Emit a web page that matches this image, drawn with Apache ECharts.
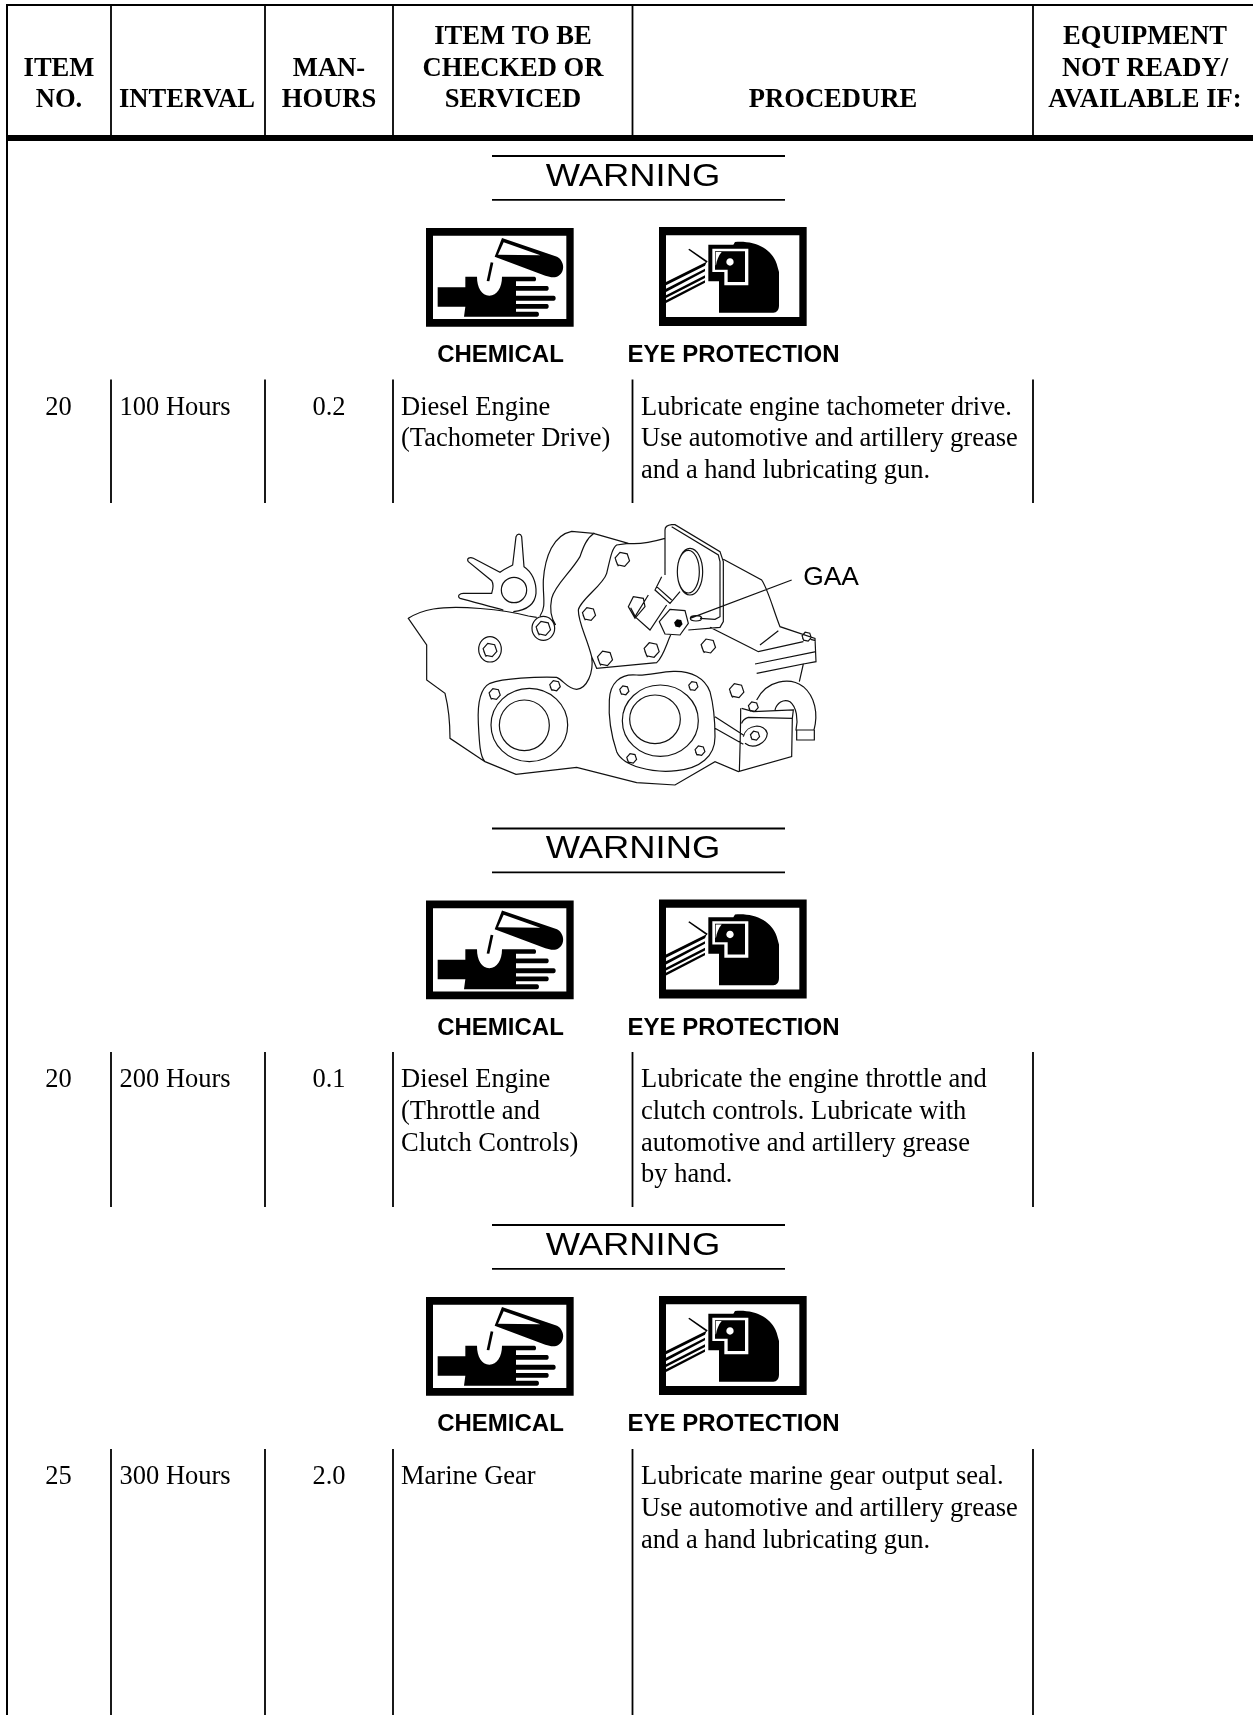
<!DOCTYPE html>
<html>
<head>
<meta charset="utf-8">
<script src="https://cdn.jsdelivr.net/npm/echarts@6/dist/echarts.min.js"></script>
<style>html,body{margin:0;padding:0;background:#fff}#c{width:1253px;height:1715px}</style>
</head>
<body>
<div id="c"></div>
<script>
// ---- content ----
const headers = [
  ["ITEM", "NO."],
  ["INTERVAL"],
  ["MAN-", "HOURS"],
  ["ITEM TO BE", "CHECKED OR", "SERVICED"],
  ["PROCEDURE"],
  ["EQUIPMENT", "NOT READY/", "AVAILABLE IF:"]
];
const itemNos = ["20", "20", "25"];
const intervals = ["100 Hours", "200 Hours", "300 Hours"];
const manHours = ["0.2", "0.1", "2.0"];
const itemsChecked = [
  ["Diesel Engine", "(Tachometer Drive)"],
  ["Diesel Engine", "(Throttle and", "Clutch Controls)"],
  ["Marine Gear"]
];
const procedures = [
  ["Lubricate engine tachometer drive.", "Use automotive and artillery grease", "and a hand lubricating gun."],
  ["Lubricate the engine throttle and", "clutch controls. Lubricate with", "automotive and artillery grease", "by hand."],
  ["Lubricate marine gear output seal.", "Use automotive and artillery grease", "and a hand lubricating gun."]
];
const warningTitle = "WARNING";
const hazardLabels = ["CHEMICAL", "EYE PROTECTION"];
const calloutLabel = "GAA";

// ---- layout ----
const W = 1253, H = 1715;
const colLines = [111, 265, 393, 632.5, 1033];
const headerCenters = [59, 187, 329, 513, 833, 1145];
const headerLineYs = [37.2, 68.9, 100.6];
const rowSpans = [[379.5, 503], [1052, 1207], [1449, 1715]];
const rowFirstLine = [407.7, 1080.2, 1477.2];
const LINE = 31.7;
const warningOffsets = [0, 672.5, 1069];
const SERIF = "'Liberation Serif','Times New Roman',serif";
const SANS = "'Liberation Sans',Arial,sans-serif";
const BODY = 26.5, HEAD = 26.6;

// Cell descriptors built from the value arrays
const cells = [];
function addText(text, x, y, font, size, weight, align, sx) { cells.push({text, x, y, font, size, weight, align, sx: sx || 1}); }
headers.forEach((h, i) => {
  const ys = headerLineYs.slice(3 - h.length);
  h.forEach((t, j) => addText(t, headerCenters[i], ys[j], SERIF, HEAD, 'bold', 'center'));
});
itemNos.forEach((v, r) => {
  const y = rowFirstLine[r];
  addText(v, 58.5, y, SERIF, BODY, 'normal', 'center');
  addText(intervals[r], 119.5, y, SERIF, BODY, 'normal', 'left');
  addText(manHours[r], 329, y, SERIF, BODY, 'normal', 'center');
  itemsChecked[r].forEach((t, j) => addText(t, 401, y + j * LINE, SERIF, BODY, 'normal', 'left'));
  procedures[r].forEach((t, j) => addText(t, 641, y + j * LINE, SERIF, BODY, 'normal', 'left'));
});
warningOffsets.forEach(d => {
  addText(warningTitle, 633, 177 + d, SANS, 31.5, 'normal', 'center', 1.155);
  addText(hazardLabels[0], 500.5, 355.5 + d, SANS, 24, 'bold', 'center');
  addText(hazardLabels[1], 733.5, 355.5 + d, SANS, 24, 'bold', 'center');
});
addText(calloutLabel, 831, 578, SANS, 26.4, 'normal', 'center');

// Rule descriptors
const rules = [];
function addRule(x1, y1, x2, y2, w) { rules.push({x1, y1, x2, y2, w}); }
addRule(6, 5, W, 5, 2);
addRule(7, 4, 7, H, 2);
addRule(6, 138, W, 138, 6);
colLines.forEach(x => addRule(x, 5, x, 136, 1.8));
rowSpans.forEach(s => colLines.forEach(x => addRule(x, s[0], x, s[1], 1.8)));
warningOffsets.forEach(d => {
  addRule(492, 156 + d, 785, 156 + d, 1.8);
  addRule(492, 199.8 + d, 785, 199.8 + d, 1.8);
});

// ---- pictograms (drawing coordinates: 3 units = 1 px) ----
const chemFrame = "M78,54H521V350H78ZM99,77V327H499V77Z";
const chemTube = "M306,84L471,140C491,150 498,182 476,197C466,204 451,202 436,197L284,140Z";
const chemTubeWhite = "M311,97L294,134L421,136Z";
const chemDrop = "M272,157L280,158L268,214L260,213Z";
const chemHand = "M113,232H196V200H231C231,232 245,257 268,257C291,257 306,232 306,200H403C410,200 410,214 403,214H348V228H441C448,228 448,242 441,242H348V257H461C469,257 469,272 461,272H348V282H441C448,282 448,296 441,296H348V305H411C419,305 419,320 411,320H192L196,290H113Z";
const eyeFrame = "M777,51H1220V348H777ZM798,76V321H1198V76Z";
const eyeHead = "M925,104H1000L1005,96C1065,91 1115,116 1130,161L1137,186V286C1137,301 1130,308 1120,308H957V214H925Z";
const eyeVisorWhite = "M937,116H1045V226H973V186H937Z";
const eyeVisorBlack = "M945,124H1035V216H983V179H945Z";
const eyeLens = "M947,126H965C955,138 950,152 948,166H947Z";
const eyeDot = "M979,156C979,150 984,145 990,145C996,145 1001,150 1001,156C1001,162 996,167 990,167C984,167 979,162 979,156Z";
const eyeRays = "M920,155L798,216V226L915,167ZM915,176L798,236V246L915,184ZM915,196L798,256V264L915,204ZM915,211L798,271V279L915,218Z";
const eyeSpike = "M865,119L868,116L923,154L920,158Z";

function hexPath(cx, cy, r, rot) {
  let s = '';
  for (let i = 0; i < 6; i++) {
    const a = (rot || 0) + i * Math.PI / 3;
    const px = cx + r * Math.cos(a), py = cy + r * Math.sin(a);
    s += (i ? 'L' : 'M') + px.toFixed(1) + ',' + py.toFixed(1);
  }
  return s + 'Z';
}
function ellPath(cx, cy, rx, ry) {
  const k = 0.5523;
  return `M${cx - rx},${cy}C${cx - rx},${cy - ry * k} ${cx - rx * k},${cy - ry} ${cx},${cy - ry}` +
    `C${cx + rx * k},${cy - ry} ${cx + rx},${cy - ry * k} ${cx + rx},${cy}` +
    `C${cx + rx},${cy + ry * k} ${cx + rx * k},${cy + ry} ${cx},${cy + ry}` +
    `C${cx - rx * k},${cy + ry} ${cx - rx},${cy + ry * k} ${cx - rx},${cy}Z`;
}
const engineLines = [
  // housing silhouette
  "M440,322L415,318C340,298 200,285 130,297C95,303 75,312 55,325L110,405L110,510L165,550C175,590 180,640 180,685L285,755L378,793L560,772L740,818L855,825L975,755L1045,785L1205,740L1207,625",
  "M497,345C480,320 480,290 485,265C495,225 540,190 570,140C580,110 590,85 612,70L545,64C490,75 465,140 460,210C458,260 470,290 450,318",
  "M610,70L715,100C750,104 790,95 825,85",
  // mounting plate
  "M825,195V60C825,50 835,45 845,44H855L990,125L1000,155V335L990,352L895,360",
  "M845,50L985,135L990,155V320L975,328L930,325",
  "M1000,148L1115,210C1135,240 1150,300 1170,350L1275,385L1278,455L1240,462",
  "M960,352L1085,415L1105,425L1240,395M1262,388L1277,392M1095,462L1278,425M1100,490L1240,462L1228,515M1110,405L1165,362",
  // bolted cover
  "M715,100L680,105C665,115 660,150 650,190C640,225 570,270 565,300C565,340 590,380 605,440L620,475L800,458C820,440 830,400 842,375",
  "M605,440C612,490 590,535 560,538C530,535 520,510 500,502C440,500 340,505 300,520C270,535 262,580 265,640C268,700 270,740 285,755",
  // right flange
  "M740,495C690,490 660,520 658,570C655,620 665,680 680,725C700,770 790,790 860,782C930,775 975,740 975,680C975,630 972,590 960,545C945,505 905,482 850,484C810,485 775,497 740,495Z",
  // lever
  "M340,300C300,290 250,275 210,265C200,258 210,250 220,250L305,250C310,235 310,220 305,212L235,155C228,145 240,140 250,145L330,187C345,175 360,170 368,165L378,80C382,70 392,70 395,80L402,170C425,185 440,215 438,250C435,280 415,300 370,305",
  // fitting
  "M815,200L795,240L840,280L870,245M800,230L845,270M775,255L735,320L780,360L830,285",
  "M715,290L730,260L760,265L765,290L735,325ZM722,293L735,318",
  // pipe and bracket
  "M1100,570C1130,510 1200,500 1240,530C1275,560 1285,610 1272,660H1218C1225,630 1220,590 1200,575C1180,565 1160,580 1155,600M1220,660V690H1273V660",
  "M1052,595C1052,640 1050,720 1048,785M1055,595L1090,605L1210,600L1207,625L1075,622C1065,625 1058,630 1055,640",
  "M975,620L1060,675M975,655L1060,703M1060,680C1070,640 1125,640 1132,670C1130,700 1090,720 1065,700",
  // leader
  "M900,325L1205,210",
  // nut
  "M808,335L840,298L885,302L895,340L870,375L825,372ZM808,335L825,372"
];
const engineHexes = [
  [697,148,22],[597,312,20],[645,445,23],[785,420,23],[955,408,22],[1040,542,22],
  [300,420,21],[460,355,22],[314,552,17],[495,527,16],[703,541,14],
  [910,528,14],[725,745,15],[930,722,15],[1095,677,14],[1090,590,15],[1250,380,14]
];
const engineEllipses = [
  [418,645,115,110],[403,646,75,76],[811,632,114,107],[795,628,76,73],
  [900,185,38,70],[895,185,33,64],[372,240,38,38],[460,355,34,36],[300,418,34,38],[918,325,17,8]
];
let enginePath = engineLines.join('');
engineHexes.forEach(h => {
  enginePath += hexPath(h[0], h[1], h[2], 0.2);
  enginePath += `M${h[0] - h[2] * 0.9},${h[1] + 3}L${h[0] - h[2] * 0.55},${h[1] + h[2] * 0.95}`;
});
engineEllipses.forEach(e => { enginePath += ellPath(e[0], e[1], e[2], e[3]); });
const engineSolid = hexPath(865, 340, 13, 0.2);

const pictures = [];
function pic(path, fill, stroke, lw, dx, dy) { pictures.push({path, fill, stroke, lw, dx, dy}); }
warningOffsets.forEach(d => {
  const dx = 400, dy = 210 + d;
  pic(chemFrame, '#000', null, 0, dx, dy);
  pic(chemTube, '#000', null, 0, dx, dy);
  pic(chemTubeWhite, '#fff', null, 0, dx, dy);
  pic(chemDrop, '#000', null, 0, dx, dy);
  pic(chemHand, '#000', null, 0, dx, dy);
  pic(eyeFrame, '#000', null, 0, dx, dy);
  pic(eyeHead, '#000', null, 0, dx, dy);
  pic(eyeVisorWhite, '#fff', null, 0, dx, dy);
  pic(eyeVisorBlack, '#000', null, 0, dx, dy);
  pic(eyeLens, '#fff', null, 0, dx, dy);
  pic(eyeDot, '#fff', null, 0, dx, dy);
  pic(eyeRays, '#000', null, 0, dx, dy);
  pic(eyeSpike, '#000', null, 0, dx, dy);
});
pic(enginePath, null, '#111', 3.6, 390, 510);
pic(engineSolid, '#000', null, 0, 390, 510);

// ---- chart ----
const chart = echarts.init(document.getElementById('c'), null, { renderer: 'canvas' });
chart.setOption({
  animation: false,
  backgroundColor: '#fff',
  grid: { left: 0, right: 0, top: 0, bottom: 0 },
  xAxis: { type: 'value', min: 0, max: W, show: false },
  yAxis: { type: 'value', min: 0, max: H, inverse: true, show: false },
  series: [
    {
      type: 'custom',
      name: 'pictures',
      coordinateSystem: 'cartesian2d',
      silent: true,
      clip: false,
      data: pictures.map((c, i) => [c.dx, c.dy, i]),
      renderItem: (p, api) => {
        const c = pictures[api.value(2)];
        const a = api.coord([c.dx, c.dy]);
        return {
          type: 'path',
          x: a[0], y: a[1], scaleX: 1 / 3, scaleY: 1 / 3,
          shape: { pathData: c.path },
          style: { fill: c.fill || 'none', stroke: c.stroke || 'none', lineWidth: c.lw }
        };
      }
    },
    {
      type: 'custom',
      name: 'rules',
      coordinateSystem: 'cartesian2d',
      silent: true,
      data: rules.map(r => [r.x1, r.y1, r.x2, r.y2, r.w]),
      clip: false,
      renderItem: (p, api) => {
        const a = api.coord([api.value(0), api.value(1)]);
        const b = api.coord([api.value(2), api.value(3)]);
        return {
          type: 'line',
          shape: { x1: a[0], y1: a[1], x2: b[0], y2: b[1] },
          style: { stroke: '#000', lineWidth: api.value(4) }
        };
      }
    },
    {
      type: 'custom',
      name: 'text',
      coordinateSystem: 'cartesian2d',
      silent: true,
      data: cells.map((c, i) => [c.x, c.y, i]),
      clip: false,
      renderItem: (p, api) => {
        const c = cells[api.value(2)];
        const a = api.coord([c.x, c.y]);
        return {
          type: 'text',
          x: a[0], y: a[1], scaleX: c.sx,
          style: {
            text: c.text,
            fill: '#000',
            font: `${c.weight} ${c.size}px ${c.font}`,
            align: c.align,
            verticalAlign: 'middle'
          }
        };
      }
    }
  ]
});
</script>
</body>
</html>
